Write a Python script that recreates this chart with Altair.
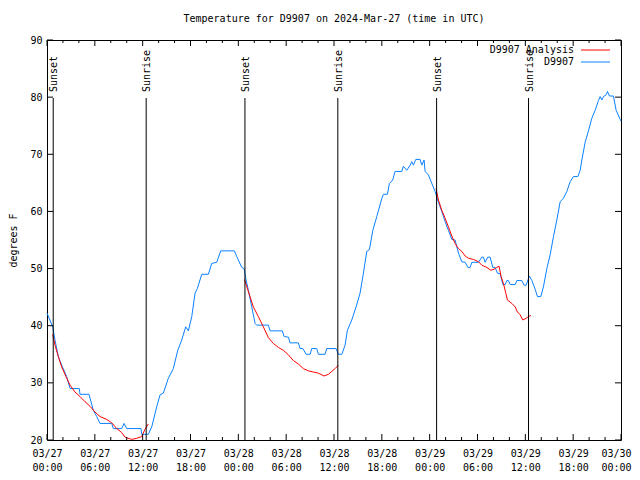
import json
import altair as alt
import pandas as pd

# ---------------- data (hours since 2024-03-27 00:00 UTC) ----------------
OBS_HOURS = [0.0, 0.72, 1.0, 1.42, 1.84, 2.47, 2.89, 4.05, 4.14, 5.27, 5.81, 6.24, 6.65, 8.12, 8.32,
             9.37, 9.66, 10.0, 11.79, 11.88, 12.71, 13.14, 13.76, 14.18, 14.59, 15.22, 15.85, 16.40,
             16.90, 17.40, 17.73, 18.16, 18.57, 18.86, 19.41, 20.24, 20.66, 21.29, 21.79, 23.5, 23.80,
             24.43, 24.72, 24.97, 25.26, 25.68, 26.10, 26.31, 27.77, 27.98, 29.52, 29.74, 30.28, 30.49,
             31.53, 31.74, 32.1, 32.5, 33.0, 33.21, 33.84, 34.04, 34.88, 35.09, 36.26, 36.55, 36.98,
             37.39, 37.68, 38.23, 38.77, 39.27, 39.69, 40.11, 40.44, 40.87, 41.37, 42.0, 42.2, 42.7,
             42.95, 43.37, 43.66, 44.5, 44.7, 45.13, 45.55, 45.76, 45.96, 46.26, 46.8, 47.01, 47.30,
             47.43, 47.84, 48.27, 48.68, 49.10, 49.52, 49.94, 50.35, 50.78, 51.19, 51.61, 52.03, 52.45,
             52.79, 53.07, 53.29, 54.12, 54.54, 54.74, 54.96, 55.29, 55.58, 55.92, 56.21, 56.5, 56.84,
             57.18, 57.47, 57.68, 57.88, 58.09, 58.72, 58.93, 59.56, 59.85, 60.1, 60.51, 60.82, 61.23,
             61.52, 61.94, 62.27, 62.7, 63.11, 63.53, 63.95, 64.37, 64.78, 65.21, 65.62, 66.04, 66.59,
             66.88, 67.09, 67.5, 67.92, 68.34, 68.76, 69.17, 69.39, 69.6, 69.8, 70.14, 70.3, 70.55,
             71.05, 71.39, 71.9, 72.0]
OBS_TEMPS = [42.2, 39.8, 37.5, 34.6, 33.1, 31.1, 29.0, 29.0, 28.0, 28.0, 25.2, 24.1, 22.9, 22.9, 22.0,
             22.0, 22.9, 22.0, 22.0, 21.0, 21.0, 22.3, 25.8, 27.9, 28.2, 30.8, 32.5, 35.7,
             37.5, 39.8, 39.1, 41.6, 45.7, 46.5, 49.0, 49.0, 50.9, 51.1, 53.1, 53.1, 52.1,
             50.2, 50.0, 48.0, 46.2, 43.3, 40.4, 40.1, 40.1, 39.1, 39.1, 38.1, 38.0, 37.0,
             37.0, 36.0, 36.0, 35.0, 35.0, 36.0, 36.0, 35.0, 35.0, 36.0, 36.0, 35.0, 35.0,
             36.6, 39.2, 41.0, 43.3, 45.7, 49.2, 53.0, 53.3, 56.7, 59.1, 62.3, 63.0, 63.0,
             64.9, 65.5, 67.0, 67.0, 67.9, 67.2, 68.1, 68.7, 68.1, 69.1, 69.1, 68.1, 69.0,
             67.0, 66.4, 64.9, 63.5, 61.6, 60.0, 58.2, 56.7, 55.1, 55.0, 52.7, 51.2, 51.1,
             50.2, 50.2, 51.1, 51.1, 52.0, 52.0, 51.1, 52.0, 52.0, 50.2, 50.2, 49.2, 49.1,
             47.2, 47.2, 47.9, 47.9, 47.2, 47.2, 47.9, 47.9, 47.1, 47.1, 48.7, 47.9, 46.4,
             45.1, 45.1, 46.8, 50.0, 52.4, 55.6, 58.5, 61.7, 62.3, 63.5, 65.2, 66.1, 66.1,
             67.2, 69.0, 72.1, 74.1, 76.3, 77.7, 79.4, 80.1, 79.5, 80.1, 80.4, 81.0, 80.2,
             80.2, 77.7, 76.1, 75.8]

ANA1_HOURS = [0.72, 1.0, 1.42, 1.84, 2.38, 2.89, 3.51, 4.14, 4.77, 5.40, 6.02, 6.65, 7.49, 8.12, 8.75,
              9.37, 9.79, 10.63, 11.25, 11.88, 12.30, 12.71]
ANA1_TEMPS = [38.5, 36.6, 34.6, 32.8, 31.1, 29.6, 28.4, 27.6, 26.7, 25.9, 24.9, 24.1, 23.6, 23.0, 22.0,
              21.3, 20.5, 20.1, 20.3, 20.6, 21.9, 22.8]
ANA2_HOURS = [24.76, 25.06, 25.47, 25.88, 26.51, 27.14, 27.77, 28.39, 29.02, 29.65, 30.28, 30.90, 31.53,
              32.16, 32.79, 33.41, 34.04, 34.76, 35.3, 35.72, 36.14, 36.55]
ANA2_TEMPS = [48.1, 46.8, 45.1, 43.3, 41.6, 39.8, 37.9, 36.9, 36.2, 35.7, 34.9, 33.9, 33.3,
              32.5, 32.1, 31.9, 31.7, 31.2, 31.5, 32.0, 32.5, 33.1]
ANA3_HOURS = [48.8, 49.10, 49.52, 49.94, 50.35, 50.78, 51.19, 51.61, 52.03, 52.45, 52.86, 53.49, 54.12,
              54.54, 55.17, 55.67, 56.09, 56.42, 56.71, 56.96, 57.25, 57.55, 57.75, 58.31, 58.72, 59.01,
              59.35, 59.69, 60.1, 60.39, 60.69]
ANA3_TEMPS = [64.0, 62.0, 60.2, 58.8, 57.3, 55.7, 54.4, 53.5, 53.0, 52.2, 51.8, 51.6, 51.2,
              50.6, 50.2, 49.7, 49.9, 50.2, 50.4, 48.6, 47.4, 45.7, 44.5, 43.9, 43.3, 42.4,
              41.9, 41.0, 41.3, 41.6, 41.8]

SUN_LABELS = ["Sunset", "Sunrise", "Sunset", "Sunrise", "Sunset", "Sunrise"]
SUN_HOURS = [0.78, 12.44, 24.83, 36.48, 48.87, 60.40]

X_MAJOR = [0, 6, 12, 18, 24, 30, 36, 42, 48, 54, 60, 66, 72]
X_MINOR = [2, 4, 8, 10, 14, 16, 20, 22, 26, 28, 32, 34, 38, 40, 44, 46, 50, 52, 56, 58, 62, 64, 68, 70]
X_TICK_LABELS = [["03/27", "00:00"], ["03/27", "06:00"], ["03/27", "12:00"], ["03/27", "18:00"],
                 ["03/28", "00:00"], ["03/28", "06:00"], ["03/28", "12:00"], ["03/28", "18:00"],
                 ["03/29", "00:00"], ["03/29", "06:00"], ["03/29", "12:00"], ["03/29", "18:00"],
                 ["03/30", "00:00"]]
Y_TICKS = [20, 30, 40, 50, 60, 70, 80, 90]

TITLE = "Temperature for D9907 on 2024-Mar-27 (time in UTC)"
SERIES_NAMES = ["D9907 Analysis", "D9907"]
SERIES_COLORS = ["#ff0000", "#0a80ff"]

FONT = "DejaVu Sans Mono"
W, H = 574, 400

# ---------------- tables ----------------
obs = pd.DataFrame({"hour": OBS_HOURS, "temp": OBS_TEMPS})
ana = pd.concat([
    pd.DataFrame({"hour": ANA1_HOURS, "temp": ANA1_TEMPS, "seg": 1}),
    pd.DataFrame({"hour": ANA2_HOURS, "temp": ANA2_TEMPS, "seg": 2}),
    pd.DataFrame({"hour": ANA3_HOURS, "temp": ANA3_TEMPS, "seg": 3}),
])
sun = pd.DataFrame({"hour": SUN_HOURS, "label": SUN_LABELS})
xmaj = pd.DataFrame({"hour": X_MAJOR})
xmin = pd.DataFrame({"hour": X_MINOR})
ytk = pd.DataFrame({"temp": Y_TICKS})

xscale = alt.Scale(domain=[0, 72], nice=False, zero=False)
yscale = alt.Scale(domain=[20, 90], nice=False, zero=False)

label_expr = f"{json.dumps(X_TICK_LABELS)}[round(datum.value / 6)]"
xaxis = alt.Axis(values=X_MAJOR, labelExpr=label_expr, ticks=False, domain=False, grid=False,
                 labelPadding=8, labelLineHeight=14, labelBaseline="top", labelFlush=False,
                 labelOverlap=False, title=None,
                 labelOffset={"condition": {"test": "datum.value >= 72", "value": -5}, "value": 0})
yaxis = alt.Axis(values=Y_TICKS, ticks=False, domain=False, grid=False, labelPadding=5,
                 title="degrees F", titleX=-34, titleY=H / 2, titleAngle=270, titleAlign="center",
                 titleBaseline="middle", titleFontWeight="normal")

X = alt.X("hour:Q", scale=xscale, axis=xaxis)
Y = alt.Y("temp:Q", scale=yscale, axis=yaxis)

obs_line = alt.Chart(obs).mark_line(color=SERIES_COLORS[1], strokeWidth=1).encode(x=X, y=Y)
ana_line = alt.Chart(ana).mark_line(color=SERIES_COLORS[0], strokeWidth=1).encode(
    x=X, y=Y, detail="seg:N")

sun_rules = alt.Chart(sun).mark_rule(color="black", strokeWidth=1).encode(
    x=X, y=alt.value(58), y2=alt.value(H))
sun_text = alt.Chart(sun).mark_text(angle=270, align="left", baseline="middle", font=FONT,
                                    fontSize=10, color="black", dy=1).encode(
    x=X, y=alt.value(52), text="label:N")

tick_bot_maj = alt.Chart(xmaj).mark_rule(color="black").encode(x=X, y=alt.value(H), y2=alt.value(H - 6))
tick_top_maj = alt.Chart(xmaj).mark_rule(color="black").encode(x=X, y=alt.value(0), y2=alt.value(6))
tick_bot_min = alt.Chart(xmin).mark_rule(color="black").encode(x=X, y=alt.value(H), y2=alt.value(H - 3))
tick_top_min = alt.Chart(xmin).mark_rule(color="black").encode(x=X, y=alt.value(0), y2=alt.value(3))
tick_left = alt.Chart(ytk).mark_rule(color="black").encode(y=Y, x=alt.value(0), x2=alt.value(6))
tick_right = alt.Chart(ytk).mark_rule(color="black").encode(y=Y, x=alt.value(W - 6), x2=alt.value(W))

legend_layers = []
for i, (name, col) in enumerate(zip(SERIES_NAMES, SERIES_COLORS)):
    ly = 10 + 12 * i
    legend_layers.append(
        alt.Chart(pd.DataFrame({"name": [name]})).mark_text(
            align="right", baseline="middle", font=FONT, fontSize=10, color="black").encode(
            x=alt.value(527), y=alt.value(ly), text="name:N"))
    legend_layers.append(
        alt.Chart(pd.DataFrame({"name": [name]})).mark_rule(color=col, strokeWidth=1).encode(
            x=alt.value(534), x2=alt.value(563), y=alt.value(ly)))

chart = alt.layer(
    obs_line, ana_line, sun_rules, sun_text,
    tick_bot_maj, tick_top_maj, tick_bot_min, tick_top_min, tick_left, tick_right,
    *legend_layers,
).properties(
    width=W, height=H,
    title=alt.TitleParams(TITLE, font=FONT, fontSize=10, fontWeight="normal", color="black",
                          anchor="middle", offset=11),
    autosize=alt.AutoSizeParams(type="none"),
    padding={"left": 39, "top": 32, "right": 11, "bottom": 32},
).configure_view(
    stroke="black", strokeWidth=1
).configure_axis(
    labelFont=FONT, labelFontSize=10, labelColor="black",
    titleFont=FONT, titleFontSize=10, titleColor="black",
)

chart.save("out.html", embed_options={"renderer": "svg", "actions": False})
